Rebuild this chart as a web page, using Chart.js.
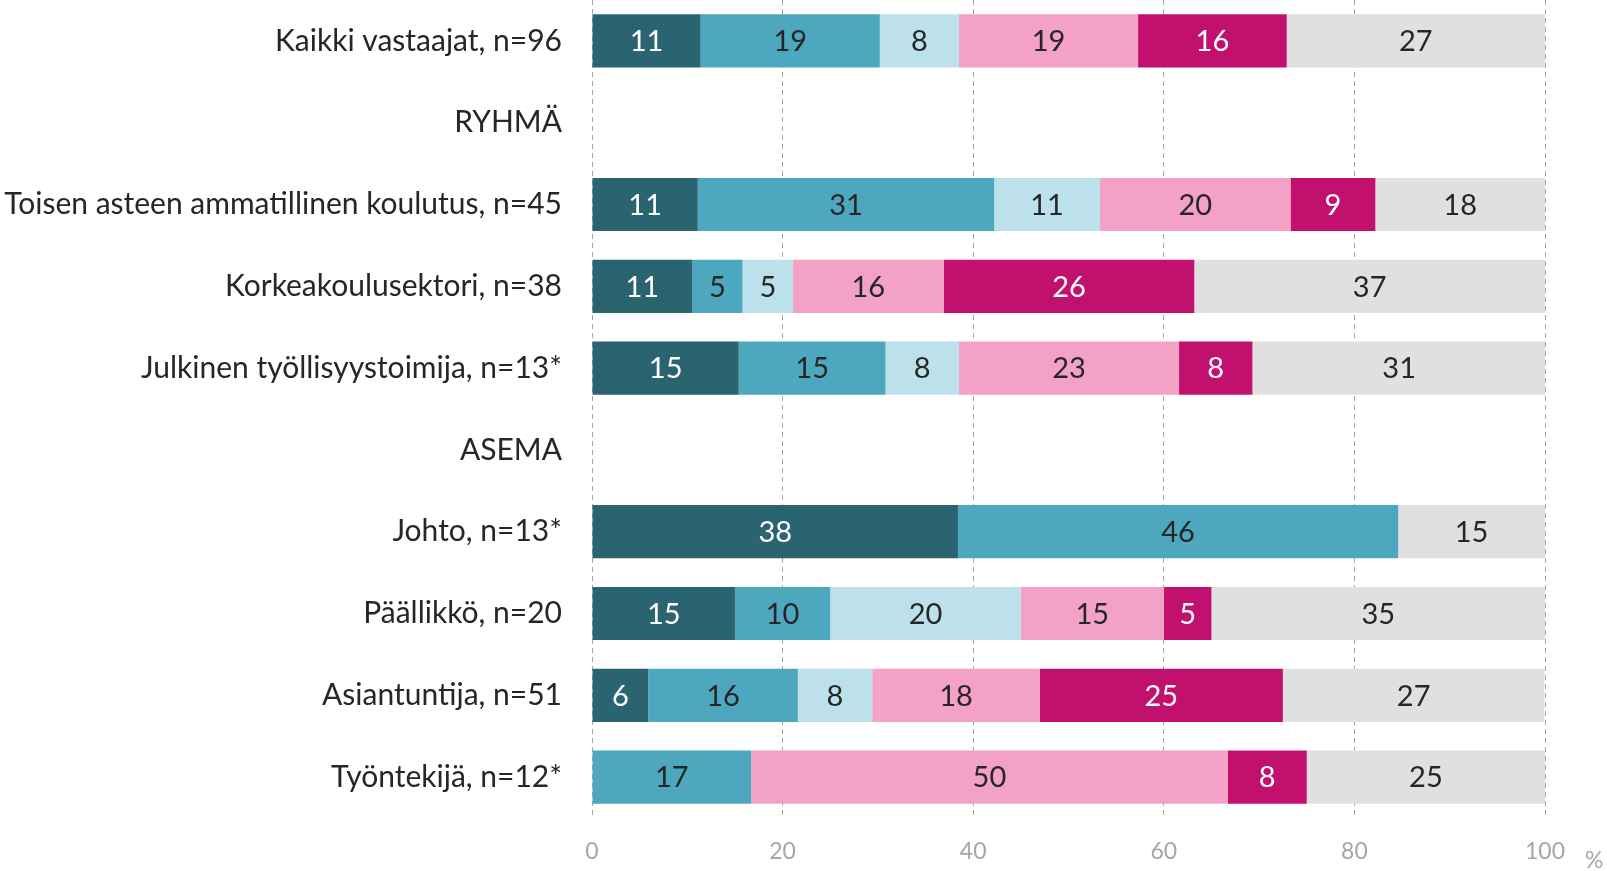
<!DOCTYPE html>
<html>
<head>
<meta charset="utf-8">
<script src="https://cdn.jsdelivr.net/npm/chart.js@4/dist/chart.umd.min.js"></script>
<style>
  html, body { margin: 0; padding: 0; background: #fff; }
  #wrap { width: 1607px; height: 871px; }
</style>
</head>
<body>
<div id="wrap"><canvas id="chart"></canvas></div>
<script>
const categories = [
  "Kaikki vastaajat, n=96",
  "RYHMÄ",
  "Toisen asteen ammatillinen koulutus, n=45",
  "Korkeakoulusektori, n=38",
  "Julkinen työllisyystoimija, n=13*",
  "ASEMA",
  "Johto, n=13*",
  "Päällikkö, n=20",
  "Asiantuntija, n=51",
  "Työntekijä, n=12*"
];

// percent shares per answer option (headers have no data)
const s1 = [11.4, null, 11.1, 10.5, 15.4, null, 38.4, 15, 5.9, 0];
const s2 = [18.8, null, 31.1, 5.3, 15.4, null, 46.2, 10, 15.7, 16.7];
const s3 = [8.3, null, 11.1, 5.3, 7.7, null, 0, 20, 7.8, 0];
const s4 = [18.8, null, 20, 15.8, 23.1, null, 0, 15, 17.6, 50];
const s5 = [15.6, null, 8.9, 26.3, 7.7, null, 0, 5, 25.49, 8.3];
const s6 = [27.1, null, 17.8, 36.8, 30.8, null, 15.4, 35, 27.45, 25];

const xTicks = [0, 20, 40, 60, 80, 100];

const colors = ["#2a6470", "#4da7be", "#bde1ea", "#f4a1c8", "#c2106e", "#e0e0e0"];
const labelColors = ["#ffffff", "#262626", "#262626", "#262626", "#ffffff", "#262626"];

const FONT = "Lato, 'Open Sans', sans-serif";

// values written inside the bars
const barLabels = {
  id: "barLabels",
  afterDatasetsDraw(chart) {
    const ctx = chart.ctx;
    ctx.save();
    ctx.font = "29px " + FONT;
    ctx.textAlign = "center";
    ctx.textBaseline = "middle";
    chart.data.datasets.forEach((ds, i) => {
      const meta = chart.getDatasetMeta(i);
      meta.data.forEach((bar, j) => {
        const v = ds.data[j];
        if (!v) return;
        ctx.fillStyle = labelColors[i];
        ctx.fillText(Math.round(v), (bar.x + bar.base) / 2, bar.y + 1);
      });
    });
    // unit after the axis
    ctx.fillStyle = "#a6a6a6";
    ctx.font = "23px " + FONT;
    ctx.textAlign = "left";
    ctx.fillText("%", 1585, 861);
    ctx.restore();
  }
};

new Chart(document.getElementById("chart"), {
  type: "bar",
  data: {
    labels: categories,
    datasets: [s1, s2, s3, s4, s5, s6].map((d, i) => ({
      data: d,
      backgroundColor: colors[i],
      borderWidth: 0,
      categoryPercentage: 1,
      barPercentage: 0.65
    }))
  },
  options: {
    indexAxis: "y",
    responsive: true,
    maintainAspectRatio: false,
    animation: false,
    layout: { padding: { top: 0, right: 62, bottom: 0, left: 0 } },
    plugins: { legend: { display: false }, tooltip: { enabled: false } },
    scales: {
      x: {
        stacked: true,
        min: 0,
        max: 100,
        afterBuildTicks: (scale) => { scale.ticks = xTicks.map(v => ({ value: v })); },
        afterFit: (scale) => {
          scale.height = 53;
          scale.paddingLeft = 0;
          scale.paddingRight = 0;
        },
        grid: { color: "#a6a6a6", lineWidth: 1, drawTicks: false },
        border: { display: false, dash: [5, 4] },
        ticks: { color: "#a6a6a6", font: { family: FONT, size: 23 }, padding: 20 }
      },
      y: {
        stacked: true,
        afterFit: (scale) => {
          scale.width = 592;
          scale.paddingTop = 0;
          scale.paddingBottom = 0;
        },
        grid: { display: false, drawTicks: false },
        border: { display: false },
        ticks: { color: "#262626", font: { family: FONT, size: 30 }, padding: 30 }
      }
    }
  },
  plugins: [barLabels]
});
</script>
</body>
</html>
